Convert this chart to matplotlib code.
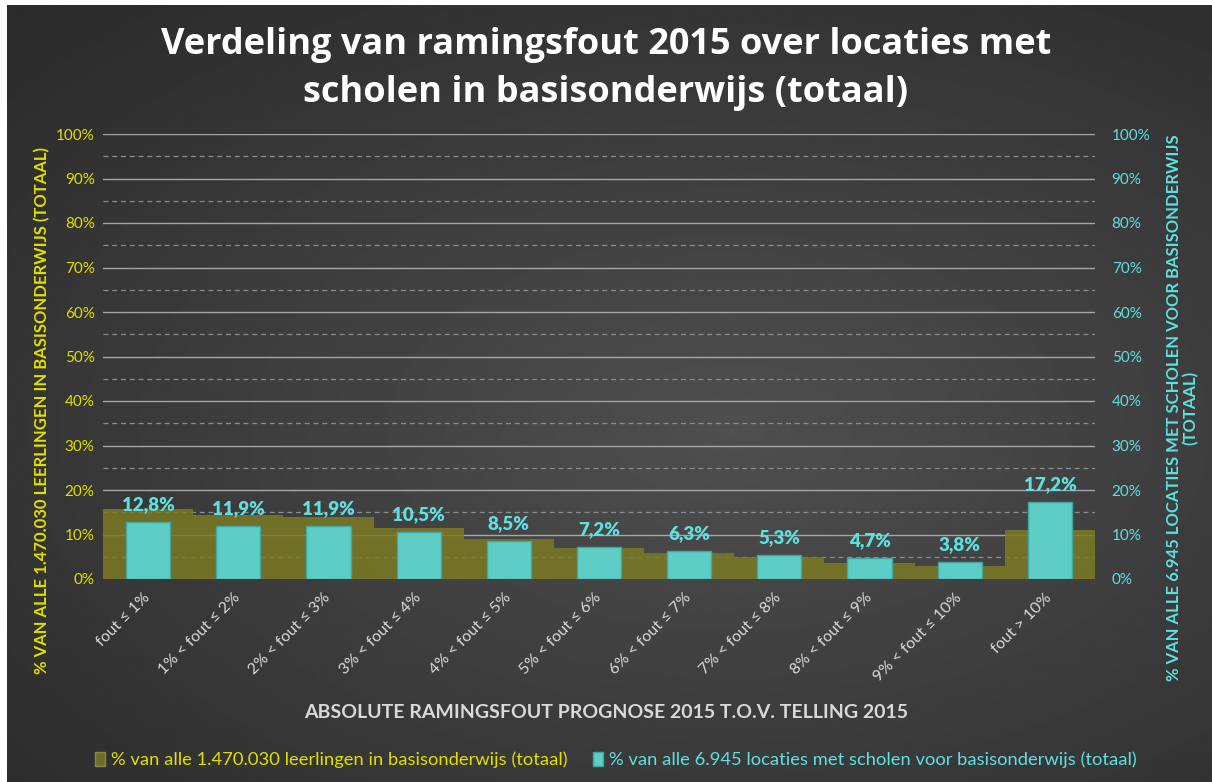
import numpy as np
import matplotlib.pyplot as plt
from matplotlib.patches import Rectangle

# Gegevens
categorieen = ['fout ≤ 1%', '1% < fout ≤ 2%', '2% < fout ≤ 3%', '3% < fout ≤ 4%',
               '4% < fout ≤ 5%', '5% < fout ≤ 6%', '6% < fout ≤ 7%', '7% < fout ≤ 8%',
               '8% < fout ≤ 9%', '9% < fout ≤ 10%', 'fout > 10%']
leerlingen = [15.8, 14.4, 13.9, 11.5, 8.9, 7.0, 5.9, 4.9, 3.7, 2.9, 11.0]
locaties = [12.8, 11.9, 11.9, 10.5, 8.5, 7.2, 6.3, 5.3, 4.7, 3.8, 17.2]
yticks = [0, 10, 20, 30, 40, 50, 60, 70, 80, 90, 100]

label_leerlingen = '% van alle 1.470.030 leerlingen in basisonderwijs (totaal)'
label_locaties = '% van alle 6.945 locaties met scholen voor basisonderwijs (totaal)'

GEEL = '#e0e000'
CYAAN = '#5ee0e0'
FONT = ['Lato', 'DejaVu Sans']
plt.rcParams['font.family'] = FONT

W, H = 1212, 782
fig = plt.figure(figsize=(W / 100, H / 100), dpi=100)
fig.patch.set_facecolor('white')

# Achtergrond met radiaal verloop
bg = fig.add_axes([7 / W, 0, 1 - 7 / W, 1 - 5 / H], zorder=-10)
yy, xx = np.mgrid[0:1:300j, 0:1:400j]
r = np.sqrt(((xx - 0.6) / 1.0) ** 2 + ((yy - 0.55) / 0.9) ** 2)
grad = np.clip(0.31 - 0.17 * r, 0.15, 0.31)
bg.imshow(grad, cmap='gray', vmin=0, vmax=1, aspect='auto', extent=[0, 1, 0, 1])
bg.axis('off')

ax = fig.add_axes([103 / W, 1 - 579 / H, (1095 - 103) / W, (579 - 134) / H])
ax.set_facecolor('none')
x = np.arange(len(categorieen))

# Rasterlijnen
for v in range(5, 100, 10):
    ax.axhline(v, color='#8c8c8c', lw=0.9, ls=(0, (4, 3)), zorder=0)
for v in yticks:
    ax.axhline(v, color='#a6a6a6', lw=1.0, zorder=0)

ax.bar(x, leerlingen, width=1.0, color='#7c7a24', alpha=0.85, edgecolor='none',
       zorder=1, label=label_leerlingen)
bars = ax.bar(x, locaties, width=0.49, color='#5ecdc6', edgecolor='#3fa8a3',
              lw=1.0, zorder=3, label=label_locaties)
for b, v in zip(bars, locaties):
    ax.text(b.get_x() + b.get_width() / 2, v + 2.0, f'{v:.1f}%'.replace('.', ','),
            ha='center', va='bottom', color=CYAAN, fontsize=13.5, fontweight='heavy',
            zorder=5)

ax.set_xlim(-0.5, len(categorieen) - 0.5)
ax.set_ylim(0, 100)
ax.set_yticks(yticks)
ax.set_yticklabels([f'{v}%' for v in yticks], color=GEEL, fontsize=11)
ax.set_xticks(x)
ax.set_xticklabels(categorieen, rotation=45, ha='right', va='center',
                   rotation_mode='anchor', color='#d9d9d9', fontsize=11.5)
ax.tick_params(axis='both', length=0, pad=6)
ax.tick_params(axis='x', pad=12)
for s in ax.spines.values():
    s.set_visible(False)

ax2 = ax.twinx()
ax2.set_ylim(0, 100)
ax2.set_yticks(yticks)
ax2.set_yticklabels([f'{v}%' for v in yticks], color=CYAAN, fontsize=11)
ax2.tick_params(axis='y', length=0, pad=12)
for s in ax2.spines.values():
    s.set_visible(False)

# Titels
fig.text(0.5, 1 - 45 / H, 'Verdeling van ramingsfout 2015 over locaties met',
         ha='center', va='center', color='white', fontsize=26, fontweight='bold',
         family=['Open Sans', 'DejaVu Sans'])
fig.text(0.5, 1 - 93 / H, 'scholen in basisonderwijs (totaal)',
         ha='center', va='center', color='white', fontsize=26, fontweight='bold',
         family=['Open Sans', 'DejaVu Sans'])

fig.text(42 / W, 1 - 410 / H, '% VAN ALLE 1.470.030 LEERLINGEN IN BASISONDERWIJS (TOTAAL)',
         rotation=90, ha='center', va='center', color=GEEL, fontsize=12, fontweight='bold')
fig.text(1182 / W, 1 - 408 / H,
         '% VAN ALLE 6.945 LOCATIES MET SCHOLEN VOOR BASISONDERWIJS\n(TOTAAL)',
         rotation=90, ha='center', va='center', color=CYAAN, fontsize=12,
         fontweight='bold', multialignment='center', linespacing=1.05)
fig.text(0.5, 1 - 712 / H, 'ABSOLUTE RAMINGSFOUT PROGNOSE 2015 T.O.V. TELLING 2015',
         ha='center', va='center', color='#d9d9d9', fontsize=14, fontweight='bold')

# Legenda
h1 = Rectangle((0, 0), 1, 1, facecolor='#6e6c26', edgecolor='#8a8a40')
h2 = Rectangle((0, 0), 1, 1, facecolor='#5ecdc6', edgecolor='#3fa8a3')
fig.legend([h1, h2], [label_leerlingen, label_locaties], loc='center',
           bbox_to_anchor=(0.508, 1 - 760 / H), ncol=2, frameon=False,
           fontsize=13.2, labelcolor=[GEEL, CYAAN], handlelength=0.55,
           handleheight=0.85, handletextpad=0.3, columnspacing=1.4)

fig.savefig('out.png', dpi=100)
